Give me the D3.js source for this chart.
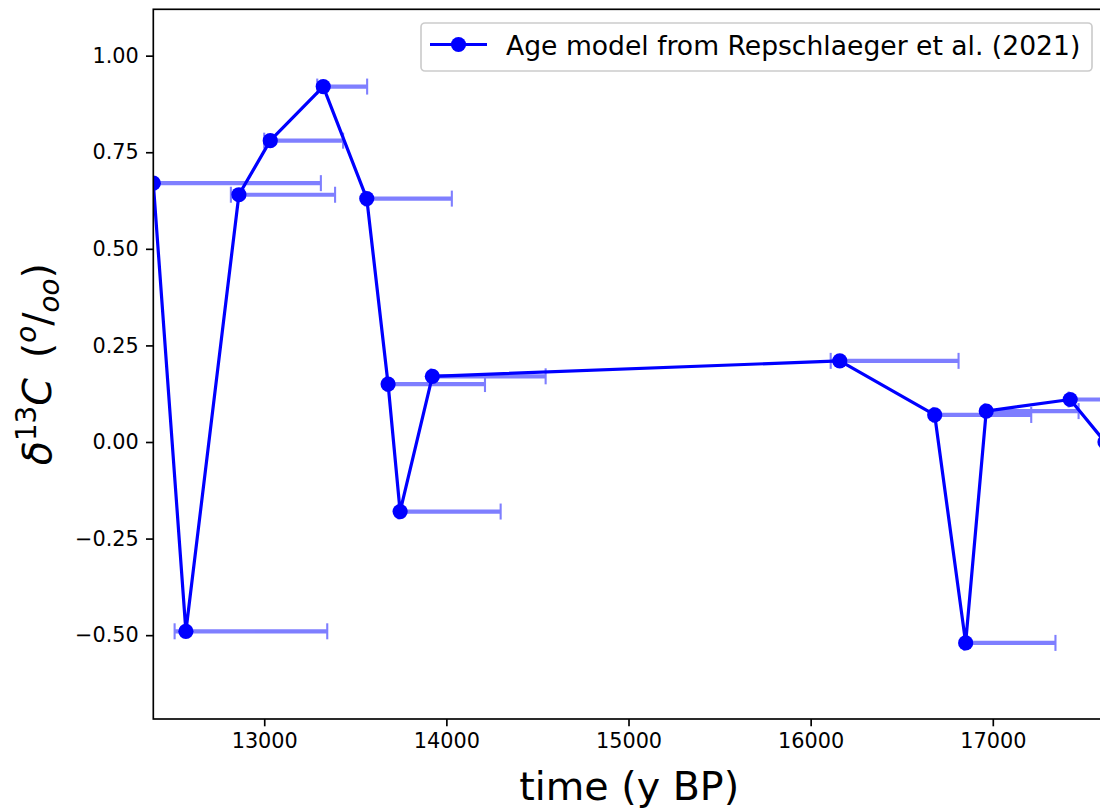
<!DOCTYPE html>
<html>
<head>
<meta charset="utf-8">
<script src="https://cdn.jsdelivr.net/npm/d3@7"></script>
<style>
  html, body { margin: 0; padding: 0; background: #fff; }
  svg { display: block; font-family: "DejaVu Sans", sans-serif; }
</style>
</head>
<body>
<svg id="chart" width="1100" height="808"></svg>
<script>
// ---- data ----
const ages        = [12391, 12570, 12861, 13033, 13324, 13563, 13680, 13746, 13923, 16160, 16681, 16851, 16964, 17425, 17616];
const d13C        = [0.67, -0.49, 0.64, 0.78, 0.92, 0.63, 0.15, -0.18, 0.17, 0.21, 0.07, -0.52, 0.08, 0.11, 0.00];
const ageErrMinus = [40, 62, 44, 33, 33, 8, 8, 8, 8, 50, 8, 8, 8, 8, 8];
const ageErrPlus  = [920, 776, 528, 400, 241, 467, 532, 552, 622, 652, 530, 493, 507, 500, 500];
const xTicks = [13000, 14000, 15000, 16000, 17000];
const yTicks = [-0.5, -0.25, 0, 0.25, 0.5, 0.75, 1.0];
const xDomain = [12391, 17616];
const yDomain = [-0.717, 1.12];
const legendLabel = "Age model from Repschlaeger et al. (2021)";

// ---- layout ----
const L = 153.3, R = 1105, T = 9.3, B = 719;
const svg = d3.select("#chart");
const x = d3.scaleLinear().domain(xDomain).range([L, R]);
const y = d3.scaleLinear().domain(yDomain).range([B, T]);

svg.append("defs").append("clipPath").attr("id", "clip")
  .append("rect").attr("x", L).attr("y", T).attr("width", R - L).attr("height", B - T);

const pts = ages.map((a, i) => ({a, v: d13C[i], lo: a - ageErrMinus[i], hi: a + ageErrPlus[i]}));

const plot = svg.append("g").attr("clip-path", "url(#clip)");

// error bars
const eb = plot.append("g").attr("opacity", 0.5);
eb.selectAll("line.bar").data(pts).join("line")
  .attr("x1", d => x(d.lo)).attr("x2", d => x(d.hi))
  .attr("y1", d => y(d.v)).attr("y2", d => y(d.v))
  .attr("stroke", "#0000ff").attr("stroke-width", 4.2);
["lo", "hi"].forEach(k => {
  eb.selectAll("line.cap" + k).data(pts).join("line")
    .attr("x1", d => x(d[k])).attr("x2", d => x(d[k]))
    .attr("y1", d => y(d.v) - 8).attr("y2", d => y(d.v) + 8)
    .attr("stroke", "#0000ff").attr("stroke-width", 2.1);
});

// line
plot.append("path").datum(pts)
  .attr("d", d3.line().x(d => x(d.a)).y(d => y(d.v)))
  .attr("fill", "none").attr("stroke", "#0000ff").attr("stroke-width", 3.2)
  .attr("stroke-linejoin", "round");
plot.selectAll("circle").data(pts).join("circle")
  .attr("cx", d => x(d.a)).attr("cy", d => y(d.v)).attr("r", 7.6)
  .attr("fill", "#0000ff");

// axes
const xAxis = svg.append("g").attr("transform", `translate(0,${B})`)
  .call(d3.axisBottom(x).tickValues(xTicks).tickFormat(d3.format("d")).tickSize(7.3).tickPadding(7.3));
const yAxis = svg.append("g").attr("transform", `translate(${L},0)`)
  .call(d3.axisLeft(y).tickValues(yTicks).tickFormat(d3.format(".2f")).tickSize(7.3).tickPadding(7.3));
[xAxis, yAxis].forEach(g => {
  g.select(".domain").remove();
  g.selectAll(".tick line").attr("stroke", "#000").attr("stroke-width", 1.67);
  g.selectAll(".tick text").attr("font-size", 20.8).attr("fill", "#000")
    .attr("font-family", "DejaVu Sans");
});

// frame
svg.append("rect").attr("x", L).attr("y", T).attr("width", R - L).attr("height", B - T)
  .attr("fill", "none").attr("stroke", "#000").attr("stroke-width", 1.67);

// x label
svg.append("text").attr("x", (L + R) / 2).attr("y", 800)
  .attr("text-anchor", "middle").attr("font-size", 39.6).attr("fill", "#000")
  .text("time (y BP)");

// y label (mathtext-like)
const yl = svg.append("text")
  .attr("transform", `translate(51,${(T + B) / 2}) rotate(-90)`)
  .attr("text-anchor", "middle").attr("font-size", 39.6).attr("fill", "#000");
yl.append("tspan").attr("font-style", "italic").text("δ");
yl.append("tspan").attr("dy", -15).attr("font-size", 27.7).text("13");
yl.append("tspan").attr("dy", 15).attr("font-style", "italic").text("C");
yl.append("tspan").attr("dx", 20).text("(");
yl.append("tspan").attr("dy", -15).attr("font-size", 27.7).attr("font-style", "italic").text("o");
yl.append("tspan").attr("dy", 15).text("/");
yl.append("tspan").attr("dy", 8).attr("font-size", 27.7).attr("font-style", "italic").text("oo");
yl.append("tspan").attr("dy", -8).text(")");

// legend
const lg = svg.append("g");
lg.append("rect").attr("x", 421).attr("y", 23).attr("width", 671).attr("height", 48).attr("rx", 4)
  .attr("fill", "#fff").attr("fill-opacity", 0.8).attr("stroke", "#cccccc").attr("stroke-width", 1.67);
lg.append("line").attr("x1", 430).attr("x2", 487).attr("y1", 44.5).attr("y2", 44.5)
  .attr("stroke", "#0000ff").attr("stroke-width", 3.2);
lg.append("circle").attr("cx", 458.5).attr("cy", 44.5).attr("r", 7.6).attr("fill", "#0000ff");
lg.append("text").attr("x", 506).attr("y", 55).attr("font-size", 26.6).attr("fill", "#000")
  .text(legendLabel);
</script>
</body>
</html>
